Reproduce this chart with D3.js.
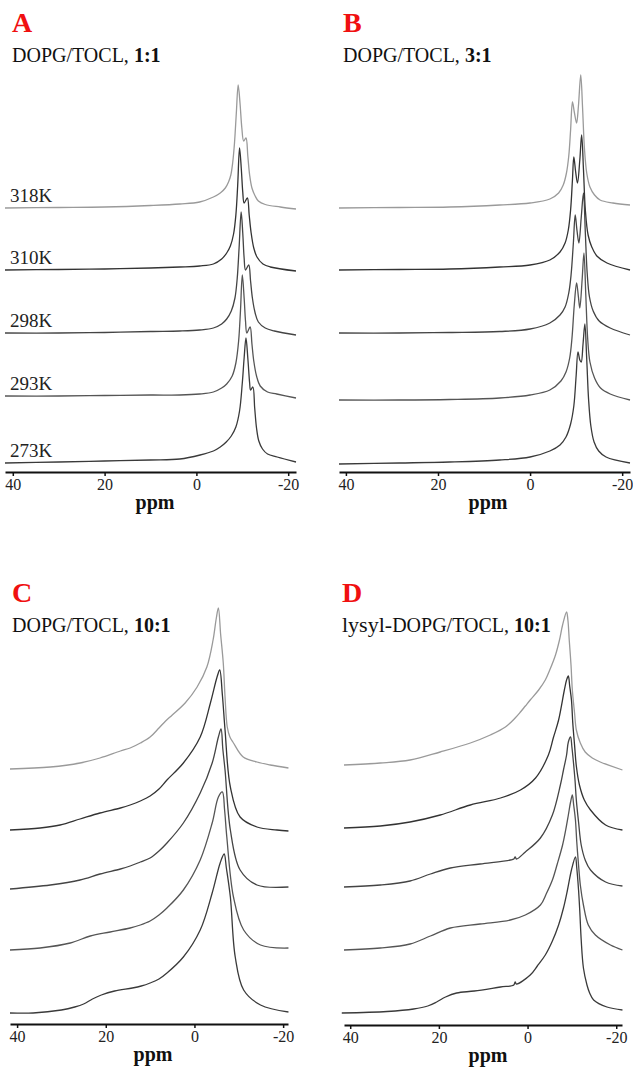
<!DOCTYPE html>
<html>
<head>
<meta charset="utf-8">
<script src="https://cdn.jsdelivr.net/npm/d3@7"></script>
<style>
  body { margin: 0; background: #fff; }
  svg { display: block; font-family: "Liberation Serif", "DejaVu Serif", serif; }
</style>
</head>
<body>
<div class="canvas"></div>
<script>
// ---- data (ppm, intensity above each trace's own baseline) ----
const ppmTicks = [40, 20, 0, -20];
const tempLabels = ['318K', '310K', '298K', '293K', '273K'];

// stacking offsets of the five traces in each panel (top -> bottom)
const offsetsA = [255, 193, 130, 67, 0];
const offsetsB = [256, 194, 131, 64, 0];
const offsetsC = [244, 183, 124, 63, 0];
const offsetsD = [248, 185, 126, 63, 0];

// A: DOPG/TOCL 1:1
const tracesA = [
  [[41.7,0],[30,0.5],[20,1],[10,2.5],[3.6,4],[-0.7,6],[-3.7,11],[-5.2,15],[-6.3,20],[-7.0,26],[-7.5,33],[-7.9,45],[-8.3,65],[-8.7,95],[-9.1,123],[-9.5,105],[-9.9,80],[-10.3,67],[-10.8,70],[-11.2,52],[-11.6,33],[-12.1,20],[-12.8,12],[-13.5,7],[-15,3.5],[-18.3,1],[-21.7,-1]],
  [[41.7,0],[30,0.5],[20,1],[10,2],[3.6,3],[-0.7,4],[-3.7,6],[-5.5,11],[-6.6,17],[-7.4,24],[-8.1,36],[-8.6,55],[-9.0,85],[-9.4,122],[-9.8,100],[-10.1,78],[-10.4,67],[-11.1,72],[-11.5,55],[-11.9,38],[-12.5,22],[-13.2,13],[-14.5,6],[-16.1,3],[-21.7,-1]],
  [[41.7,0],[30,0],[20,0.5],[10,1.5],[3.6,2],[-0.7,3],[-3.7,5],[-5.5,9],[-6.6,14],[-7.6,22],[-8.4,35],[-8.9,55],[-9.3,85],[-9.75,121],[-10.1,100],[-10.4,75],[-10.7,63],[-11.4,68],[-11.8,52],[-12.2,35],[-12.8,20],[-13.5,11],[-15,5],[-17,2],[-21.7,-2]],
  [[41.7,0],[30,0],[20,0.5],[10,1],[3.6,1],[-0.7,2],[-3.7,4],[-5.5,8],[-6.6,12],[-7.8,20],[-8.6,33],[-9.2,55],[-9.6,85],[-10.0,121],[-10.4,98],[-10.7,75],[-11.0,63],[-11.7,69],[-12.1,52],[-12.5,35],[-13.1,20],[-13.9,10],[-15.5,4],[-17.5,2],[-21.7,-2]],
  [[41.7,0],[30,1],[20,2],[10,3],[3.6,4],[-0.8,8],[-3.7,12],[-5.2,16],[-6.5,21],[-7.6,27],[-8.6,36],[-9.4,52],[-10.0,80],[-10.4,105],[-10.8,125],[-11.2,105],[-11.6,80],[-11.8,73],[-12.3,76],[-12.7,55],[-13.1,35],[-13.6,22],[-14.4,14],[-15.5,9],[-17.6,6],[-21.7,1]]
];

// B: DOPG/TOCL 3:1
const tracesB = [
  [[41.5,0],[28.4,0.5],[17.5,1],[6.6,3],[0,5],[-4.3,9],[-6.2,15],[-7.2,23],[-7.9,35],[-8.4,52],[-8.8,78],[-9.2,106],[-9.6,96],[-10.1,85],[-10.5,102],[-11.0,133],[-11.4,100],[-11.8,60],[-12.3,35],[-13.0,21],[-14,13],[-15.2,8],[-18,5],[-21.7,3]],
  [[41.5,0],[28.4,0.5],[17.5,1],[6.6,3],[0,5],[-4.3,10],[-6.5,18],[-7.6,27],[-8.3,40],[-8.8,60],[-9.2,90],[-9.5,113],[-9.9,98],[-10.3,87],[-10.8,110],[-11.2,135],[-11.6,100],[-12.0,60],[-12.6,35],[-13.4,23],[-14.5,14],[-16.7,7],[-21.7,0]],
  [[41.5,0],[28.4,0],[17.5,0.5],[6.6,1.5],[0,4],[-4.3,10],[-6.5,18],[-7.6,26],[-8.4,40],[-8.9,58],[-9.4,90],[-9.8,118],[-10.2,102],[-10.6,90],[-11.1,115],[-11.6,140],[-12.0,100],[-12.4,60],[-12.9,36],[-13.7,22],[-15,12],[-17.4,5],[-21.7,-2]],
  [[41.5,0],[28.4,0],[17.5,0.5],[6.6,2],[0,5],[-4.3,10],[-6.7,19],[-7.8,28],[-8.6,42],[-9.1,62],[-9.6,95],[-10.1,117],[-10.5,103],[-10.8,92],[-11.3,120],[-11.7,147],[-12.1,105],[-12.5,62],[-13.0,38],[-14.0,22],[-15.3,12],[-17.4,6],[-21.7,0]],
  [[41.5,0],[28.4,1],[17.5,2],[6.6,4],[0,7],[-4.3,13],[-6.5,19],[-7.8,27],[-8.8,40],[-9.5,58],[-10.0,88],[-10.4,112],[-10.8,104],[-11.1,102],[-11.5,120],[-11.9,140],[-12.3,105],[-12.7,65],[-13.2,38],[-13.9,22],[-14.9,13],[-16.5,7],[-21.7,1]]
];

// C: DOPG/TOCL 10:1
const tracesC = [
  [[41.6,0],[32.5,2],[25.8,6],[21.3,11],[16.7,18],[14.5,21],[12.2,26],[10,32],[8,41],[6.5,48],[5,54],[2.1,66],[-0.6,82],[-2.8,102],[-4.2,129],[-4.9,150],[-5.4,161],[-5.9,135],[-6.5,106],[-6.9,72],[-7.4,42],[-8.0,32],[-8.8,26],[-11,12],[-14.1,7],[-17.1,4],[-21.2,1]],
  [[41.6,0],[34.8,2],[30.3,5],[25.8,11],[21.3,17],[16.7,22],[14.5,25],[12.2,29],[10,34],[8,41],[6.2,50],[2.5,67],[-1.3,93],[-3.6,127],[-5.1,153],[-5.7,160],[-6.3,135],[-6.9,100],[-8.1,43],[-10.3,13],[-14.1,3],[-18.6,0],[-21.2,-1]],
  [[41.6,0],[32.5,4],[25.8,9],[21.3,15],[16.7,20],[14.5,23],[12.2,27],[10,31],[8,38],[6.2,46],[2.5,66],[-1.3,96],[-4.0,126],[-5.4,152],[-6.0,160],[-6.4,140],[-6.9,119],[-8.1,59],[-10.3,19],[-14.1,4],[-21.2,2]],
  [[41.6,0],[34.8,2],[28,7],[23.5,14],[19,18],[14.5,22],[12.2,25],[10,29],[8,35],[6.2,42],[2.5,60],[-1.3,90],[-4.0,127],[-5.4,153],[-6.3,158],[-6.8,140],[-7.3,113],[-8.8,53],[-11.1,20],[-14.9,5],[-21.2,2]],
  [[41.6,0],[36.4,0],[30,3],[27,6],[25,9],[23,14],[21,18],[18,22],[14,25],[12,27],[10,30],[8,34],[6.2,40],[2.5,56],[-1.3,83],[-4.0,120],[-5.8,150],[-6.7,159],[-7.2,145],[-8.1,116],[-9.2,56],[-11.1,23],[-14.9,8],[-21.2,1]]
];

// D: lysyl-DOPG/TOCL 10:1
const tracesD = [
  [[41.4,0],[33.2,2],[26.5,5],[19.7,13],[12.9,22],[8.4,30],[5.0,38],[2.8,47],[1.6,53],[0.5,59],[-0.6,65],[-2.5,75],[-4.0,85],[-5.1,96],[-6.3,110],[-7.2,125],[-7.9,140],[-8.8,153],[-9.1,145],[-9.4,125],[-9.8,100],[-10.1,75],[-10.6,52],[-11.0,35],[-11.9,22],[-13.0,13],[-14.6,7],[-16.4,3],[-21.4,-5]],
  [[41.4,0],[33.2,2],[26.5,6],[19.7,13],[12.9,23],[6.1,30],[1.6,38],[-1.8,50],[-4.7,73],[-5.8,90],[-7.0,108],[-8.3,138],[-8.8,148],[-9.2,152],[-9.5,142],[-9.9,128],[-10.2,105],[-10.6,83],[-11.0,62],[-11.7,43],[-12.8,28],[-14.2,18],[-17.6,3],[-21.4,-2]],
  [[41.4,0],[33.2,2],[26.5,6],[21.9,13],[17.4,19],[10.7,23],[3.9,27],[3.1,28],[2.8,30],[2.5,28],[0.5,35],[-2.9,49],[-5.6,72],[-7.4,102],[-8.1,117],[-8.8,132],[-9.2,145],[-9.7,150],[-10.0,140],[-10.3,127],[-10.7,107],[-11.0,87],[-11.5,65],[-12.1,42],[-13.0,27],[-14.2,17],[-17.6,5],[-21.4,1]],
  [[41.4,0],[33.2,2],[26.5,6],[21.9,14],[17.4,22],[10.7,26],[3.9,30],[0.5,35],[-2.9,45],[-4.2,56],[-5.6,70],[-6.7,86],[-7.9,105],[-8.6,120],[-9.2,135],[-9.7,148],[-10.1,155],[-10.4,145],[-10.8,130],[-11.1,108],[-11.5,85],[-11.9,65],[-12.6,45],[-13.7,25],[-15.3,15],[-18.7,5],[-21.4,0]],
  [[41.9,0],[31.7,1.5],[25.7,4],[22.5,7],[20.5,11],[18.5,16],[16,20],[12,22],[6.1,26],[3.1,28],[2.8,31],[2.5,29],[-0.6,38],[-2.2,47],[-4.0,58],[-5.6,72],[-7.0,88],[-8.1,105],[-9.0,123],[-9.9,143],[-10.8,156],[-11.1,145],[-11.5,123],[-11.8,100],[-12.1,73],[-12.6,45],[-13.4,28],[-14.0,20],[-14.9,13],[-17.9,6],[-21.4,3]]
];

const traceColors = ['#9a9a9a', '#333', '#444', '#555', '#3a3a3a'];

// ---- layout ----
const svg = d3.select('.canvas')
    .append('svg')
    .attr('width', 633)
    .attr('height', 1072);

const panels = [
  { letter: 'A', pre: '', mix: 'DOPG/TOCL, ', ratio: '1:1', traces: tracesA, offsets: offsetsA,
    domain: [41.7, -21.7], range: [5, 296], base: 463, axisY: 472, tx: 12, ty: 32, labels: tempLabels, ppmX: 155 },
  { letter: 'B', pre: '', mix: 'DOPG/TOCL, ', ratio: '3:1', traces: tracesB, offsets: offsetsB,
    domain: [41.5, -21.7], range: [339, 630], base: 464, axisY: 472, tx: 343, ty: 32, labels: null, ppmX: 488 },
  { letter: 'C', pre: '', mix: 'DOPG/TOCL, ', ratio: '10:1', traces: tracesC, offsets: offsetsC,
    domain: [41.6, -21.1], range: [10, 288], base: 1013, axisY: 1024, tx: 12, ty: 602, labels: null, ppmX: 153 },
  { letter: 'D', pre: 'lysyl-', mix: 'DOPG/TOCL, ', ratio: '10:1', traces: tracesD, offsets: offsetsD,
    domain: [41.4, -21.3], range: [344, 622], base: 1013, axisY: 1025, tx: 342, ty: 602, labels: null, ppmX: 488 }
];

panels.forEach(p => {
  const g = svg.append('g');

  const x = d3.scaleLinear().domain(p.domain).range(p.range);
  // one intensity unit per pixel, stacked upward from the bottom trace
  const y = d3.scaleLinear().domain([0, 100]).range([p.base, p.base - 100]);

  p.traces.forEach((tr, i) => {
    const line = d3.line()
        .x(d => x(d[0]))
        .y(d => y(p.offsets[i] + d[1]))
        .curve(d3.curveCatmullRom.alpha(0.5));

    g.append('path')
        .attr('d', line(tr))
        .attr('fill', 'none')
        .attr('stroke', traceColors[i])
        .attr('stroke-width', 1.3)
        .attr('stroke-linejoin', 'round');
  });

  if (p.labels) {
    g.selectAll('text.temp')
        .data(p.labels)
        .enter()
        .append('text')
        .attr('class', 'temp')
        .attr('x', 10)
        .attr('y', (d, i) => y(p.offsets[i]) - 6)
        .attr('font-size', 19)
        .attr('fill', '#222')
        .text(d => d);
  }

  // axis
  const axis = d3.axisBottom(x)
      .tickValues(ppmTicks)
      .tickSizeInner(4)
      .tickSizeOuter(0)
      .tickPadding(3)
      .tickFormat(d => d);

  const ax = g.append('g')
      .attr('transform', `translate(0, ${p.axisY})`)
      .call(axis);
  ax.select('.domain').attr('stroke', '#111').attr('stroke-width', 2);
  ax.selectAll('.tick line').attr('stroke', '#111').attr('stroke-width', 1.5);
  ax.selectAll('.tick text')
      .attr('font-family', '"Liberation Serif", serif')
      .attr('font-size', 16)
      .attr('fill', '#222');

  g.append('text')
      .attr('x', p.ppmX)
      .attr('y', p.axisY + 37)
      .attr('text-anchor', 'middle')
      .attr('font-size', 20)
      .attr('font-weight', 'bold')
      .attr('fill', '#111')
      .text('ppm');

  // panel letter and title
  g.append('text')
      .attr('x', p.tx)
      .attr('y', p.ty)
      .attr('font-size', 28)
      .attr('font-weight', 'bold')
      .attr('fill', '#f01010')
      .text(p.letter);

  const t = g.append('text')
      .attr('x', p.tx)
      .attr('y', p.ty + 30)
      .attr('fill', '#111');
  if (p.pre) t.append('tspan').attr('font-size', 22).text(p.pre);
  t.append('tspan').attr('font-size', 20).text(p.mix);
  t.append('tspan').attr('font-size', 20).attr('font-weight', 'bold').text(p.ratio);
});
</script>
</body>
</html>
